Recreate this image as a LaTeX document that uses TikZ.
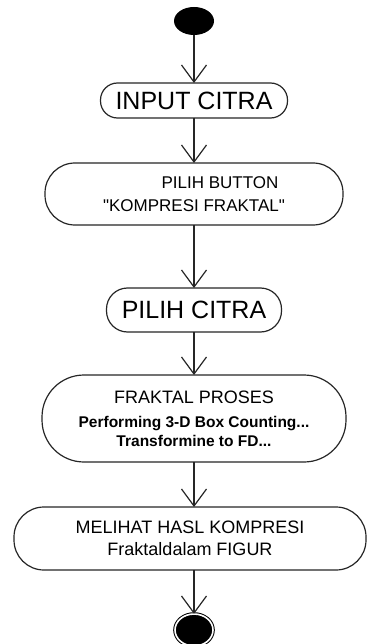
\documentclass[tikz,border=0pt]{standalone}
\usepackage{fontspec}
\setmainfont{Liberation Sans}
\usepackage{tikz}
\usetikzlibrary{shapes.geometric, arrows.meta, positioning}
\tikzstyle{act} = [rectangle, draw=black!85, line width=1.2pt, align=center, inner sep=0pt, outer sep=0pt, fill=white]
\tikzstyle{startstate} = [ellipse, fill=black, minimum width=40pt, minimum height=28pt, inner sep=0pt, outer sep=0pt]
\tikzstyle{endstate} = [ellipse, fill=black, draw=black, line width=1pt, double=white, double distance=1.6pt, minimum width=38pt, minimum height=32pt, inner sep=0pt, outer sep=0pt]
\tikzstyle{arrow} = [line width=1.2pt, draw=black!85, -{Straight Barb[length=17pt, width=25pt, line width=1.2pt]}]

\begin{document}
\begin{tikzpicture}
    \useasboundingbox (0,0) rectangle (367pt,-644pt);
    % Nodes
    \node (start) [startstate] at (194pt,-21pt) {};
    \node (input) [act, below=48pt of start, minimum width=187pt, minimum height=35pt, rounded corners=17pt, font=\fontsize{25}{30}\selectfont] {INPUT CITRA};
    \node (button) [act, below=45pt of input, minimum width=298pt, minimum height=62pt, rounded corners=30pt, font=\fontsize{17}{23.5}\selectfont] {\hspace*{52pt}PILIH BUTTON\\\textquotedbl KOMPRESI FRAKTAL\textquotedbl};
    \node (citra) [act, below=63pt of button, minimum width=175pt, minimum height=44pt, rounded corners=21pt, font=\fontsize{25}{30}\selectfont] {PILIH CITRA};
    \node (proses) [act, below=43pt of citra, minimum width=304pt, minimum height=87pt, rounded corners=42pt, font=\fontsize{15.5}{19}\selectfont\bfseries] {{\mdseries\fontsize{18}{18}\selectfont FRAKTAL PROSES}\\[5pt]Performing 3-D Box Counting...\\Transformine to FD...};
    \node (hasil) [act, below=45pt of proses, xshift=-4pt, minimum width=352pt, minimum height=63pt, rounded corners=30pt, font=\fontsize{18}{22}\selectfont] {MELIHAT HASL KOMPRESI\\Fraktaldalam FIGUR};
    \node (end) [endstate, below=44pt of hasil.south -| proses.south, anchor=north] {};

    % Arrows
    \draw [arrow] (start.south) -- (input.north);
    \draw [arrow] (input.south) -- (button.north);
    \draw [arrow] (button.south) -- (citra.north);
    \draw [arrow] (citra.south) -- (proses.north);
    \draw [arrow] (proses.south) -- (proses.south |- hasil.north);
    \draw [arrow] (proses.south |- hasil.south) -- (end.north);
\end{tikzpicture}
\end{document}
